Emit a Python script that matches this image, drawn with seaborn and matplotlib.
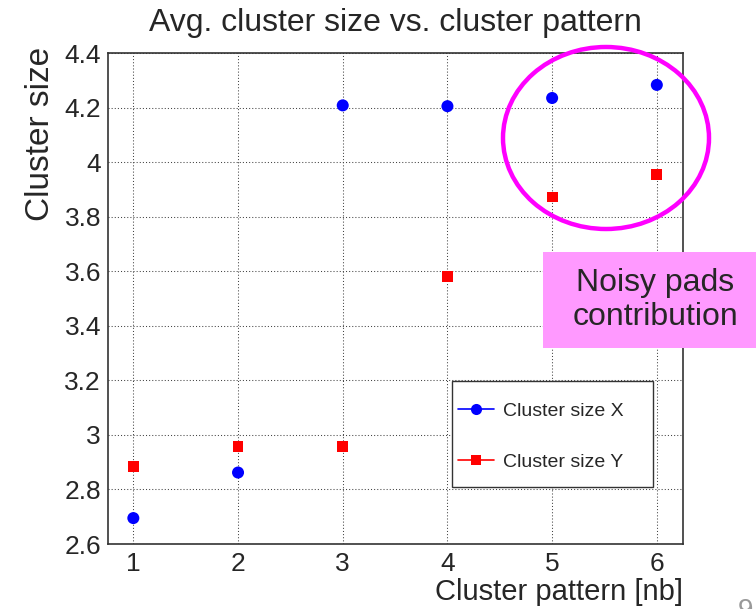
import numpy as np
import pandas as pd
import matplotlib
matplotlib.use("Agg")
import matplotlib.pyplot as plt
import seaborn as sns
from matplotlib.patches import Ellipse, Rectangle
from matplotlib.lines import Line2D
from matplotlib.ticker import MultipleLocator

# ---- data ----
cluster_pattern = [1, 2, 3, 4, 5, 6]
size_x = [2.695, 2.862, 4.208, 4.205, 4.235, 4.283]
size_y = [2.885, 2.957, 2.957, 3.582, 3.872, 3.955]
series_labels = ["Cluster size X", "Cluster size Y"]
y_tick_labels = ["2.6", "2.8", "3", "3.2", "3.4", "3.6", "3.8", "4", "4.2", "4.4"]
title = "Avg. cluster size vs. cluster pattern"
xlabel = "Cluster pattern [nb]"
ylabel = "Cluster size"
note = "Noisy pads\ncontribution"

df = pd.DataFrame({
    "pattern": cluster_pattern * 2,
    "size": size_x + size_y,
    "series": [series_labels[0]] * 6 + [series_labels[1]] * 6,
})

sns.set_style("white")
plt.rcParams["font.family"] = ["Liberation Sans", "DejaVu Sans"]

W, H = 756, 609
fig = plt.figure(figsize=(W / 100, H / 100), dpi=100)

def fx(px):
    return px / W

def fy(py):
    return 1 - py / H

left, right, top, bottom = 108, 683, 53, 544
ax = fig.add_axes([fx(left), fy(bottom), fx(right - left), (bottom - top) / H])

sns.scatterplot(data=df[df.series == series_labels[0]], x="pattern", y="size",
                color="#0000ff", marker="o", s=75, edgecolor="none", ax=ax,
                legend=False, zorder=3)
sns.scatterplot(data=df[df.series == series_labels[1]], x="pattern", y="size",
                color="#ff0000", marker="s", s=60, edgecolor="none", ax=ax,
                legend=False, zorder=3)

ax.set_xlim(0.758, 6.25)
ax.set_ylim(2.6, 4.4)
ax.xaxis.set_minor_locator(MultipleLocator(0.2))
ax.yaxis.set_minor_locator(MultipleLocator(0.05))
ax.set_yticks(np.round(np.arange(2.6, 4.41, 0.2), 1))
ax.set_yticklabels(y_tick_labels)
ax.set_xticks(cluster_pattern)
ax.set_xticklabels([str(v) for v in cluster_pattern])

ax.tick_params(axis="x", which="major", direction="in", length=11, width=1.0,
               color="#333333", labelsize=19, pad=6)
ax.tick_params(axis="x", which="minor", direction="in", length=5.8, width=1.0,
               color="#333333")
ax.tick_params(axis="y", which="major", direction="in", length=8.6, width=1.0,
               color="#333333", labelsize=19, pad=5)
ax.tick_params(axis="y", which="minor", direction="in", length=5, width=1.0,
               color="#333333")
ax.grid(True, which="major", linestyle=(0, (1, 2)), color="#444444", linewidth=0.75)
for side, sp in ax.spines.items():
    sp.set_visible(True)
    sp.set_color("#333333")
    sp.set_linewidth(1.2)

ax.set_xlabel("")
ax.set_ylabel("")

# axis labels (ROOT style: right / top aligned)
fig.text(fx(683), fy(600), xlabel, ha="right", va="baseline", fontsize=21)
fig.text(fx(41), fy(47), ylabel, ha="center", va="top", rotation=90, fontsize=24)

# title
fig.text(fx(395.5), fy(31), title, ha="center", va="baseline", fontsize=23)

# legend frame + entries
fig.patches.append(Rectangle((fx(452), fy(487)), fx(653 - 452), (487 - 381) / H,
                             transform=fig.transFigure, facecolor="white",
                             edgecolor="#333333", linewidth=1.0, zorder=4))
handles = [
    Line2D([], [], color="#0000ff", marker="o", markersize=8, linewidth=1.2,
           markeredgewidth=0),
    Line2D([], [], color="#ff0000", marker="s", markersize=7, linewidth=1.2,
           markeredgewidth=0),
]
leg = fig.legend(handles, series_labels, loc="upper left",
                 bbox_to_anchor=(fx(458), fy(402)), frameon=False, fontsize=14,
                 borderpad=0, borderaxespad=0, handlelength=1.85, handletextpad=0.45,
                 labelspacing=1.72)
leg.set_zorder(5)

# magenta ellipse annotation
fig.patches.append(Ellipse((fx(606), fy(138)), fx(206), 182 / H,
                           transform=fig.transFigure, fill=False,
                           edgecolor="#ff00ff", linewidth=3.2, zorder=6))

# pink note box
fig.patches.append(Rectangle((fx(543), fy(348)), fx(756 - 543), (348 - 252) / H,
                             transform=fig.transFigure, facecolor="#ff99ff",
                             edgecolor="none", zorder=6))
fig.text(fx(655), fy(300), note, ha="center", va="center", fontsize=23,
         linespacing=1.2, zorder=7)

# slide number (partially cut off at the bottom edge, as in the slide)
fig.text(fx(738), fy(598), "9", ha="left", va="top", fontsize=20, color="#999999")

fig.savefig("out.png", dpi=100)
